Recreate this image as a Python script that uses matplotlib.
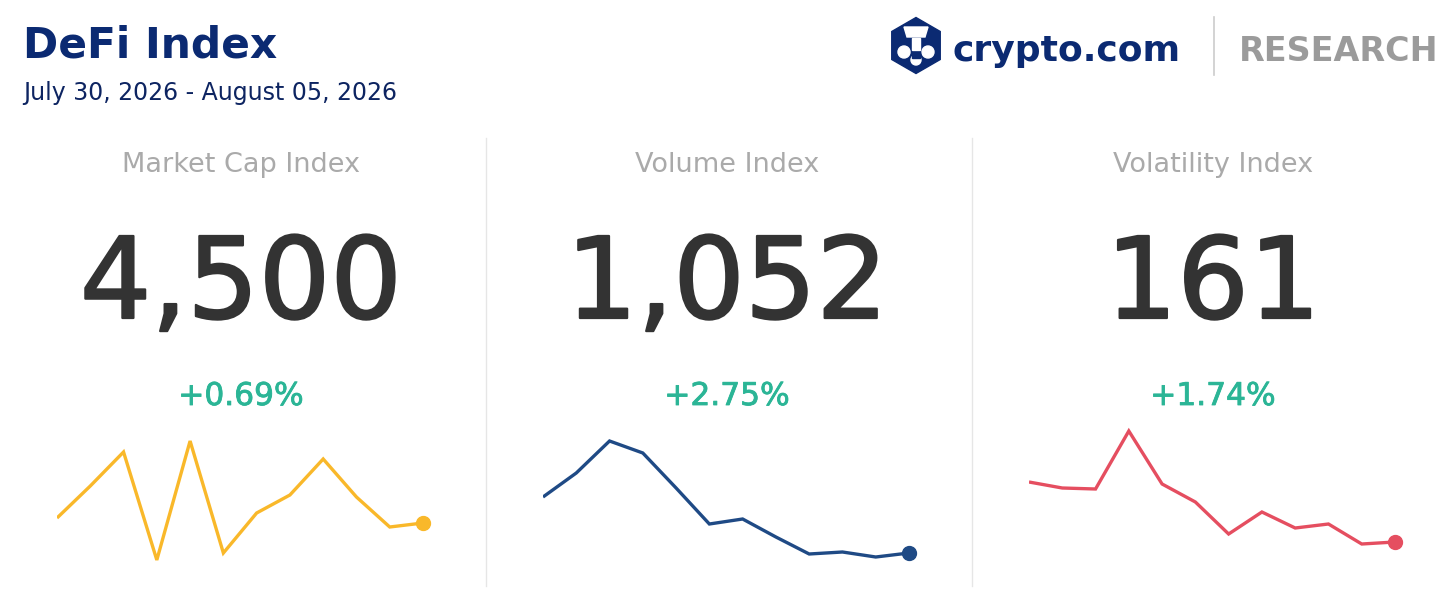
import matplotlib.pyplot as plt
import matplotlib.patheffects as pe
from matplotlib.patches import RegularPolygon, Polygon, Circle

# panel data
titles = ["Market Cap Index", "Volume Index", "Volatility Index"]
values = ["4,500", "1,052", "161"]
changes = ["+0.69%", "+2.75%", "+1.74%"]
line_colors = ["#f9b82a", "#1f4a85", "#e54e60"]

# weekly sparklines (relative level)
mcap_trend = [82, 114, 148, 40, 159, 47, 87, 105, 141, 103, 73, 77]
volume_trend = [103, 127, 159, 147, 112, 76, 81, 63, 46, 48, 43, 47]
volatility_trend = [118, 112, 111, 169, 116, 98, 66, 88, 72, 76, 56, 58]
trends = [mcap_trend, volume_trend, volatility_trend]

W, H = 1456, 605
fig = plt.figure(figsize=(W / 100, H / 100), dpi=100)
fig.patch.set_facecolor("white")
plt.rcParams["font.family"] = ["DejaVu Sans"]

# overlay axes in pixel units for text and decorations
bg = fig.add_axes([0, 0, 1, 1])
bg.set_xlim(0, W)
bg.set_ylim(H, 0)
bg.axis("off")

navy = "#0b2a72"
bg.text(23, 58, "DeFi Index", fontsize=30.5, fontweight="bold", color=navy, va="baseline")
bg.text(23, 100, "July 30, 2026 - August 05, 2026", fontsize=17, color="#0d2461", va="baseline")

# logo
bg.add_patch(RegularPolygon((916, 45.5), 6, radius=28, orientation=0, color=navy))
bg.add_patch(Polygon([[904, 27], [928, 27], [925, 37], [907, 37]], color="white"))
bg.add_patch(Polygon([[912, 38], [920, 38], [920, 50], [912, 50]], color="white"))
bg.add_patch(Circle((904, 52), 6, color="white"))
bg.add_patch(Circle((928, 52), 6, color="white"))
bg.add_patch(Circle((916, 60), 5, color="white"))
bg.add_patch(Polygon([[912, 52], [920, 52], [920, 58], [912, 58]], color=navy))
bg.text(953, 61, "crypto.com", fontsize=26, fontweight="bold", color=navy, va="baseline")
bg.plot([1214, 1214], [17, 75], color="#cccccc", lw=1.2)
bg.text(1239, 61, "RESEARCH", fontsize=24, fontweight="bold", color="#9b9b9b", va="baseline")

panel_w = 486
for i in range(3):
    cx = panel_w * i + panel_w / 2 - 2
    bg.text(cx, 172, titles[i], fontsize=19.5, color="#aaaaaa", ha="center", va="baseline")
    bg.text(cx, 318, values[i], fontsize=81, color="#333333", ha="center", va="baseline",
            path_effects=[pe.withStroke(linewidth=1.6, foreground="#333333")])
    bg.text(cx, 405, changes[i], fontsize=22.5, color="#2bb596", ha="center", va="baseline",
            path_effects=[pe.withStroke(linewidth=0.6, foreground="#2bb596")])
    if i > 0:
        bg.plot([panel_w * i, panel_w * i], [138, 586], color="#e6e6e6", lw=1)

    # sparkline axes: pixel x from left+57 .. left+423, pixel y 420..580
    left = panel_w * i + 57
    ax = fig.add_axes([left / W, (H - 580) / H, 366 / W, 160 / H])
    data = trends[i]
    ax.plot(range(len(data)), data, color=line_colors[i], lw=2.4,
            solid_joinstyle="miter", solid_capstyle="butt")
    ax.plot(len(data) - 1, data[-1], "o", color=line_colors[i], markersize=10, clip_on=False)
    ax.set_xlim(0, len(data) - 1)
    ax.set_ylim(20, 180)
    ax.axis("off")

fig.savefig("out.png", dpi=100, facecolor="white")
